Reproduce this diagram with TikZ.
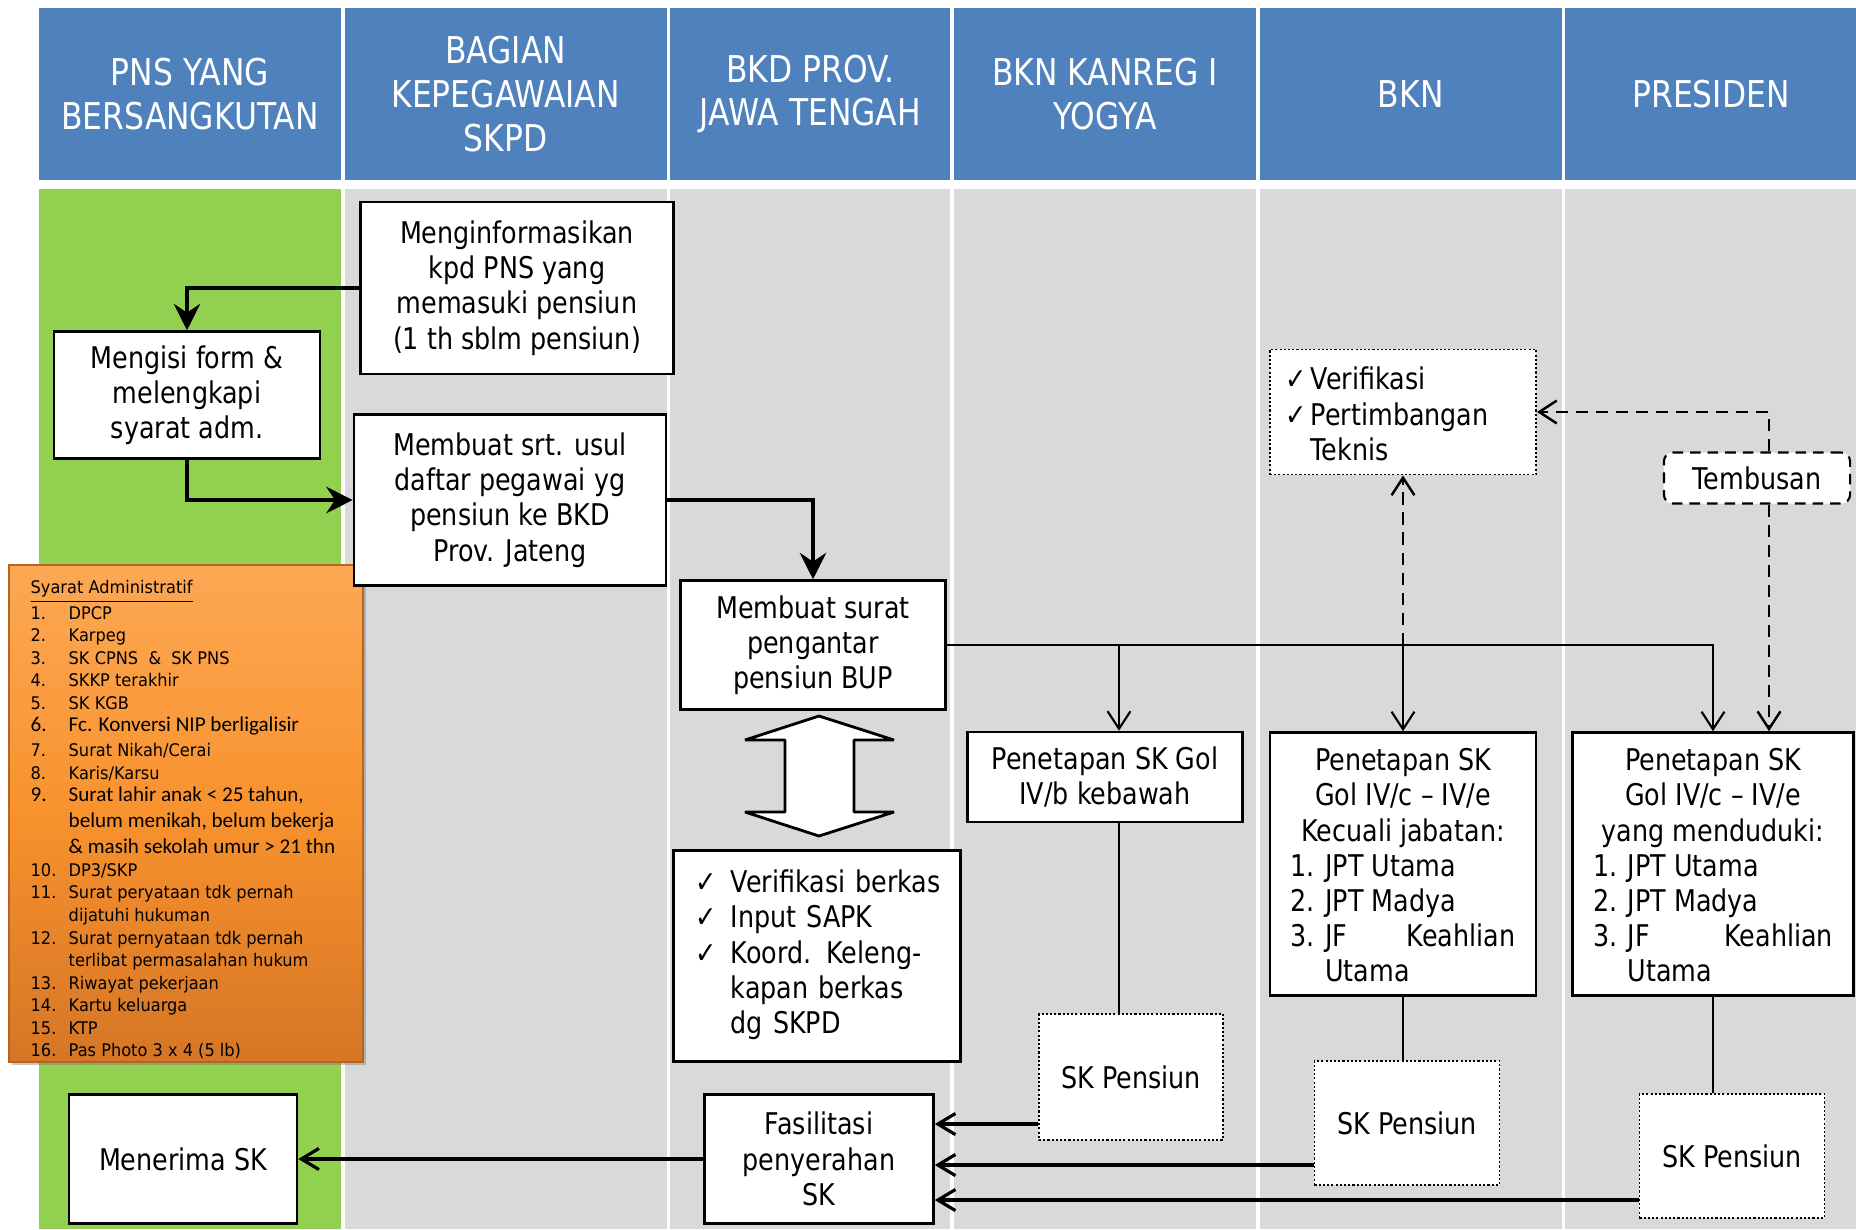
\documentclass[tikz,border=0pt]{standalone}
\usepackage{fontspec}
\setmainfont{DejaVu Sans}[FakeStretch=0.85]
\newfontfamily\listfont{DejaVu Sans}[FakeStretch=0.93]
\newfontfamily\calfont{Carlito}
\usetikzlibrary{positioning,arrows.meta,shadows}
\definecolor{headblue}{RGB}{79,129,189}
\definecolor{lanegreen}{RGB}{146,208,80}
\definecolor{lanegray}{RGB}{217,217,217}
\definecolor{admtop}{RGB}{252,168,85}
\definecolor{admmid}{RGB}{248,146,45}
\definecolor{admbot}{RGB}{214,118,38}

\begin{document}
\begin{tikzpicture}[x=0.01cm,y=-0.01cm,
		headcell/.style={fill=headblue,text=white,minimum height=1.72cm,inner sep=0pt,outer sep=0pt,align=center,
			font=\fontsize{10.5}{12.5}\selectfont},
		block/.style={draw,fill=white,line width=0.7pt,inner sep=0pt,align=center,
			font=\fontsize{8.5}{10}\selectfont},
		dotblock/.style={block,line width=0.5pt,dash pattern=on 0.6pt off 0.6pt},
		bigflow/.style={line width=1.2pt,-{Stealth[length=7.5pt,width=7.5pt,inset=2.5pt]}},
		flow/.style={line width=0.6pt,-{Straight Barb[length=5pt,width=6.5pt]}},
		backflow/.style={line width=0.9pt,-{Straight Barb[length=5pt,width=6pt]}},
		dashflow/.style={flow,line width=0.7pt,dash pattern=on 3.5pt off 2.2pt},
		link/.style={line width=0.6pt}]
	\useasboundingbox (0,0) rectangle (1856,1229);

	% lanes
	\node (hpns)    [headcell,minimum width=3.02cm] at (190,94)      {PNS YANG\\BERSANGKUTAN};
	\node (hskpd)   [headcell,minimum width=3.22cm,right=0.035cm of hpns]    {BAGIAN\\KEPEGAWAIAN\\SKPD};
	\node (hbkd)    [headcell,minimum width=2.80cm,right=0.035cm of hskpd]   {BKD PROV.\\JAWA TENGAH};
	\node (hkanreg) [headcell,minimum width=3.02cm,right=0.035cm of hbkd]    {BKN KANREG I\\YOGYA};
	\node (hbkn)    [headcell,minimum width=3.02cm,right=0.035cm of hkanreg] {BKN};
	\node (hpres)   [headcell,minimum width=2.91cm,right=0.035cm of hbkn]    {PRESIDEN};

	\coordinate (bodytop) at (0,189);
	\coordinate (bodybot) at (0,1229);
	\fill[lanegreen] (hpns.west |- bodytop) rectangle (hpns.east |- bodybot);
	\foreach \lane in {hskpd,hbkd,hkanreg,hbkn,hpres}
		\fill[lanegray] (\lane.west |- bodytop) rectangle (\lane.east |- bodybot);

	% syarat administratif
	\node (syarat) [minimum width=3.54cm,minimum height=4.97cm,inner sep=0pt,
		top color=admtop,bottom color=admbot,middle color=admmid,
		draw=admbot!85!black,line width=0.4pt,
		drop shadow={shadow xshift=0.8pt,shadow yshift=-0.8pt,opacity=0.45}] at (186,813.5) {};
	\node (adm) [anchor=base west,inner sep=0pt,font=\listfont\fontsize{4.95}{6.4}\selectfont] at (30,593) {%
		\begin{tabular}[t]{@{}p{0.38cm}@{}l@{}}
			\multicolumn{2}{@{}l@{}}{\underline{Syarat Administratif}}\\
			1. & DPCP\\
			2. & Karpeg\\
			3. & SK CPNS \ \& \ SK PNS\\
			4. & SKKP terakhir\\
			5. & SK KGB\\
			{\calfont\fontsize{6}{6.4}\selectfont 6.} & {\calfont\fontsize{6}{6.4}\selectfont Fc. Konversi NIP berligalisir}\\[0.7pt]
			7. & Surat Nikah/Cerai\\
			8. & Karis/Karsu\\
			{\calfont\fontsize{6}{6.4}\selectfont 9.} & {\calfont\fontsize{6}{6.4}\selectfont Surat lahir anak < 25 tahun,}\\[1pt]
			& {\calfont\fontsize{6}{6.4}\selectfont belum menikah, belum bekerja}\\[1pt]
			& {\calfont\fontsize{6}{6.4}\selectfont \& masih sekolah umur > 21 thn}\\
			10. & DP3/SKP\\
			11. & Surat peryataan tdk pernah\\
			& dijatuhi hukuman\\
			12. & Surat pernyataan tdk pernah\\
			& terlibat permasalahan hukum\\
			13. & Riwayat pekerjaan\\
			14. & Kartu keluarga\\
			15. & KTP\\
			16. & Pas Photo 3 x 4 (5 lb)
		\end{tabular}};

	% proses
	\node (info)   [block,minimum width=3.13cm,minimum height=1.72cm] at (517,288)  {Menginformasikan\\kpd PNS yang\\memasuki pensiun\\(1 th sblm pensiun)};
	\node (isi)    [block,minimum width=2.66cm,minimum height=1.27cm] at (187,395)  {Mengisi form \&\\melengkapi\\syarat adm.};
	\node (usul)   [block,minimum width=3.12cm,minimum height=1.71cm] at (510,500)  {Membuat srt. usul\\daftar pegawai yg\\pensiun ke BKD\\Prov. Jateng};
	\node (antar)  [block,minimum width=2.65cm,minimum height=1.29cm] at (813,645)  {Membuat surat\\pengantar\\pensiun BUP};
	\node (verbks) [block,minimum height=2.11cm,text width=2.43cm,inner xsep=0.22cm,align=left] at (817,956) {%
		\begin{tabular}{@{}l@{\hspace{4pt}}l@{}}
			✓ & Verifikasi berkas\\
			✓ & Input SAPK\\
			✓ & Koord. Keleng-\\
			  & kapan berkas\\
			  & dg SKPD
		\end{tabular}};
	\node (fasil)  [block,minimum width=2.29cm,minimum height=1.29cm] at (819,1159) {Fasilitasi\\penyerahan\\SK};
	\node (terima) [block,minimum width=2.28cm,minimum height=1.29cm] at (183,1159) {Menerima SK};

	\node (pertek) [dotblock,minimum height=1.25cm,text width=2.34cm,inner xsep=0.16cm,align=left] at (1403,412) {%
		\begin{tabular}{@{}l@{\hspace{1pt}}l@{}}
			✓ & \rule{0pt}{10.4pt}Verifikasi\\
			✓ & Pertimbangan\\
			  & Teknis
		\end{tabular}};
	\node (tembusan) [block,line width=0.6pt,dash pattern=on 3pt off 2pt,rounded corners=2.5pt,
		minimum width=1.86cm,minimum height=0.51cm] at (1757,478) {Tembusan};

	\node (golb) [block,minimum width=2.75cm,minimum height=0.90cm] at (1105,777) {Penetapan SK Gol\\IV/b kebawah};
	\node (golc) [block,minimum width=2.66cm,minimum height=2.63cm] at (1403,864) {%
		\rule{0pt}{10pt}Penetapan SK\\Gol IV/c -- IV/e\\Kecuali jabatan:\\
		\begin{tabular}[t]{@{}l@{\hspace{3pt}}l@{}}
			1. & JPT Utama\\
			2. & JPT Madya\\
			3. & \makebox[1.9cm][l]{JF\hfill Keahlian}\\
			   & Utama
		\end{tabular}};
	\node (golp) [block,minimum width=2.81cm,minimum height=2.63cm] at (1713,864) {%
		\rule{0pt}{10pt}Penetapan SK\\Gol IV/c -- IV/e\\yang menduduki:\\
		\begin{tabular}[t]{@{}l@{\hspace{3pt}}l@{}}
			1. & JPT Utama\\
			2. & JPT Madya\\
			3. & \makebox[2.05cm][l]{JF\hfill Keahlian}\\
			   & Utama
		\end{tabular}};

	\node (skp1) [dotblock,minimum width=1.84cm,minimum height=1.26cm] at (1131,1077) {SK Pensiun};
	\node (skp2) [dotblock,minimum width=1.85cm,minimum height=1.24cm] at (1407,1123) {SK Pensiun};
	\node (skp3) [dotblock,minimum width=1.85cm,minimum height=1.24cm] at (1732,1156) {SK Pensiun};

	% panah dua arah
	\draw[fill=white,line width=0.8pt,line join=bevel] (819,716) -- (894,740) -- (854,740) -- (854,812) -- (894,812)
		-- (819,836) -- (745,812) -- (785,812) -- (785,740) -- (745,740) -- cycle;

	% alur
	\draw[bigflow] (info.west) -| (isi.north);
	\draw[bigflow] (isi.south) |- (usul.west);
	\draw[bigflow] (usul.east) -| (antar.north);

	\draw[flow] (antar.east) -| (golp.north);
	\draw[flow] ([xshift=0.14cm]golb.north |- antar.east) -- ([xshift=0.14cm]golb.north);
	\draw[flow] (golc.north |- antar.east) -- (golc.north);
	\draw[dashflow] (golc.north |- antar.east) -- (pertek.south);
	\draw[dashflow] ([xshift=0.12cm]tembusan.north) |- (pertek.east);
	\draw[dashflow] ([xshift=0.12cm]tembusan.south) -- ([xshift=0.12cm]tembusan.south |- golp.north);

	\draw[link] ([xshift=0.14cm]golb.south) -- ([xshift=0.14cm]golb.south |- skp1.north);
	\draw[link] (golc.south) -- (golc.south |- skp2.north);
	\draw[link] (golp.south) -- (golp.south |- skp3.north);

	\draw[backflow] ([yshift=-0.47cm]skp1.west) -- ([yshift=-0.47cm]skp1.west -| fasil.east);
	\draw[backflow] ([yshift=-0.42cm]skp2.west) -- ([yshift=-0.42cm]skp2.west -| fasil.east);
	\draw[backflow] ([yshift=-0.44cm]skp3.west) -- ([yshift=-0.44cm]skp3.west -| fasil.east);
	\draw[backflow] (fasil.west) -- (terima.east);
\end{tikzpicture}
\end{document}
